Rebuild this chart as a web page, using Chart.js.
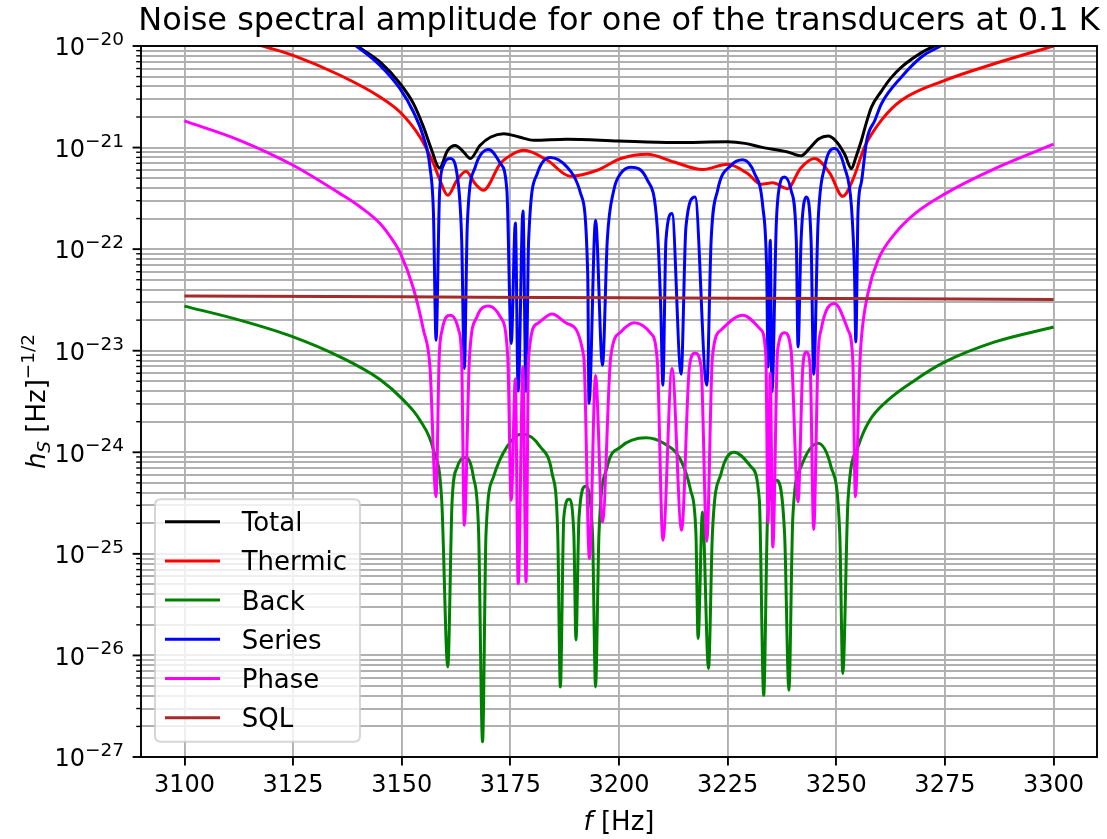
<!DOCTYPE html>
<html>
<head>
<meta charset="utf-8">
<script src="https://cdn.jsdelivr.net/npm/chart.js@4.4.0/dist/chart.umd.min.js"></script>
<style>
  html, body { margin: 0; padding: 0; background: #fff; }
  #wrap { width: 1107px; height: 839px; }
</style>
</head>
<body>
<div id="wrap"><canvas id="noiseChart" width="1107" height="839"></canvas></div>
<script>
// values (f in Hz, h in Hz^-1/2)
const totalF = [3100, 3125, 3135, 3140, 3145, 3149.6, 3152.7, 3155, 3156.9, 3158.7, 3160.5, 3162.3, 3164, 3165.8, 3168, 3170.5, 3173.5, 3177, 3180.4, 3188, 3200, 3212.7, 3225, 3229, 3232.7, 3238.8, 3241.9, 3244, 3246, 3248.1, 3250, 3252, 3253.5, 3254.5, 3255.8, 3257, 3258.1, 3260.4, 3262.5, 3265, 3270, 3274, 3285, 3300];
const totalV = [5e-20, 2.3e-20, 1.35e-20, 9.8e-21, 6.96e-21, 4.27e-21, 2.71e-21, 1.6e-21, 9.4e-22, 6.3e-22, 9.3e-22, 1.05e-21, 9.3e-22, 7.8e-22, 1.05e-21, 1.27e-21, 1.37e-21, 1.27e-21, 1.18e-21, 1.21e-21, 1.16e-21, 1.12e-21, 1.14e-21, 1.1e-21, 1.01e-21, 9.05e-22, 8.3e-22, 1.0e-21, 1.22e-21, 1.3e-21, 1.15e-21, 8.5e-22, 6.2e-22, 8.0e-22, 1.18e-21, 1.8e-21, 2.5e-21, 3.6e-21, 4.8e-21, 6.2e-21, 8.8e-21, 1.07e-20, 2e-20, 3e-20];

const thermicF = [3100, 3110, 3118, 3125, 3135.8, 3145, 3149.6, 3154.2, 3157.3, 3158.8, 3160.6, 3162.7, 3164.8, 3166.9, 3168.8, 3172.7, 3175.5, 3178.1, 3183.5, 3188.8, 3195, 3200.4, 3206.5, 3212.7, 3219.2, 3225, 3229.6, 3232.7, 3235.4, 3238.8, 3241.7, 3245, 3248.5, 3251.5, 3253.8, 3256.5, 3260.4, 3265, 3275, 3286.5, 3300];
const thermicV = [1.7e-20, 1.28e-20, 1.0e-20, 8.09e-21, 5.15e-21, 3.15e-21, 2.24e-21, 1.27e-21, 6.97e-22, 4.76e-22, 3.39e-22, 4.76e-22, 5.85e-22, 4.4e-22, 3.8e-22, 6.97e-22, 8.6e-22, 9.4e-22, 7.5e-22, 5.22e-22, 5.98e-22, 7.8e-22, 8.6e-22, 7.2e-22, 6.07e-22, 6.85e-22, 5.55e-22, 4.35e-22, 4.5e-22, 3.94e-22, 6.2e-22, 7.8e-22, 5.6e-22, 3.31e-22, 4.8e-22, 1.01e-21, 1.86e-21, 2.92e-21, 4.59e-21, 6.72e-21, 1.0e-20];

const backF = [3100, 3112.7, 3125, 3135.8, 3145, 3150.4, 3154.2, 3157.3, 3159.2, 3160.6, 3161.6, 3162.8, 3164.6, 3166.5, 3167.7, 3168.6, 3169.4, 3171.1, 3174.2, 3177.7, 3181.9, 3184.6, 3185.9, 3186.5, 3187.3, 3188.5, 3189.6, 3190.1, 3190.8, 3192.3, 3193.9, 3194.6, 3195.4, 3197.3, 3200.4, 3206.2, 3210.4, 3214.2, 3216.5, 3217.7, 3218.2, 3219.2, 3220.6, 3221.5, 3223.5, 3226.5, 3230.4, 3232.3, 3233.3, 3234.2, 3236.2, 3238.1, 3239.1, 3240, 3241.9, 3245.8, 3248.8, 3250.8, 3251.5, 3252.7, 3255, 3257.5, 3261.9, 3268.1, 3275, 3286.5, 3300];
const backV = [2.75e-23, 2.0e-23, 1.37e-23, 8.7e-24, 5.2e-24, 3.26e-24, 2.07e-24, 1.05e-24, 3.38e-25, 7.7e-27, 3.38e-25, 7.2e-25, 8.9e-25, 5.7e-25, 1.6e-25, 1.41e-27, 1.6e-25, 5.7e-25, 1.13e-24, 1.51e-24, 1.13e-24, 6.2e-25, 1.6e-25, 4.9e-27, 2.3e-25, 3.45e-25, 1.6e-25, 1.42e-26, 2.3e-25, 4.64e-25, 1.6e-25, 4.9e-27, 1.6e-25, 7.2e-25, 1.13e-24, 1.39e-24, 1.22e-24, 8.4e-25, 4.2e-25, 1.6e-25, 1.47e-26, 2.59e-25, 7.45e-27, 1.6e-25, 6.2e-25, 1.0e-24, 7.2e-25, 3.38e-25, 4.06e-27, 2.3e-25, 5.3e-25, 1.6e-25, 4.55e-27, 2.3e-25, 7.2e-25, 1.23e-24, 7.2e-25, 1.6e-25, 6.65e-27, 3.38e-25, 1.13e-24, 2.0e-24, 3.26e-24, 5.13e-24, 7.75e-24, 1.22e-23, 1.71e-23];

const seriesF = [3100, 3125, 3135, 3139.5, 3145, 3149.6, 3152.7, 3155, 3156.5, 3157.3, 3157.9, 3158.7, 3159.6, 3161.2, 3162.7, 3163.8, 3164.4, 3165.1, 3166.9, 3170, 3172.7, 3174.2, 3175.2, 3176.15, 3176.8, 3177.9, 3178.6, 3179.2, 3181.2, 3184.2, 3188.1, 3191.2, 3192.8, 3193.1, 3194.6, 3196.2, 3197.3, 3198.8, 3200.4, 3202.7, 3206.5, 3208.8, 3209.6, 3210.1, 3210.8, 3212.2, 3214.3, 3215.4, 3217.5, 3220.2, 3221.2, 3222.7, 3225.8, 3228.5, 3231.2, 3233.1, 3234.0, 3234.3, 3234.8, 3235.2, 3236.2, 3236.9, 3238.1, 3239.6, 3240.8, 3241.2, 3241.9, 3243.1, 3244.2, 3244.8, 3245.8, 3247.3, 3249.6, 3251.9, 3253.5, 3254.2, 3254.5, 3255, 3255.8, 3257, 3258.9, 3260.4, 3265, 3269.6, 3274, 3285, 3300];
const seriesV = [4.8e-20, 2.2e-20, 1.33e-20, 1.0e-20, 6.45e-21, 3.8e-21, 2.24e-21, 1.27e-21, 6.4e-22, 2.25e-22, 1.27e-23, 3.5e-22, 6.7e-22, 7.8e-22, 5.55e-22, 1.22e-22, 6.68e-24, 1.79e-22, 6.4e-22, 9.55e-22, 6.97e-22, 3.8e-22, 1.18e-23, 1.81e-22, 4e-24, 2.38e-22, 4e-24, 1.22e-22, 5.55e-22, 7.97e-22, 6.4e-22, 3.5e-22, 5.75e-23, 3.04e-24, 1.92e-22, 7.2e-24, 1.22e-22, 3.8e-22, 5.55e-22, 6.4e-22, 4.8e-22, 1.65e-22, 2.7e-23, 4.57e-24, 1.22e-22, 2.24e-22, 5.88e-24, 1.65e-22, 3.27e-22, 4.57e-24, 1.22e-22, 3.8e-22, 6.7e-22, 7.6e-22, 5.55e-22, 2.6e-22, 5.75e-23, 6.9e-24, 1.22e-22, 3.93e-24, 1.79e-22, 4.1e-22, 5.14e-22, 3.8e-22, 1.22e-22, 1.09e-23, 1.22e-22, 3.27e-22, 1.22e-22, 5.88e-24, 1.79e-22, 6.4e-22, 9.8e-22, 6.4e-22, 2.6e-22, 5.75e-23, 1.22e-23, 2.3e-22, 4.6e-22, 1.18e-21, 1.86e-21, 2.7e-21, 4.95e-21, 7.8e-21, 1.0e-20, 1.9e-20, 2.9e-20];

const phaseF = [3100, 3112.7, 3125, 3135.8, 3140.4, 3145, 3147.3, 3149.6, 3152.7, 3155, 3156.5, 3157.9, 3158.6, 3159.3, 3161.2, 3163.1, 3163.8, 3164.4, 3165.6, 3167.3, 3170, 3172.7, 3174.4, 3175.2, 3176.15, 3176.8, 3177.9, 3178.6, 3179.2, 3181.2, 3184.6, 3188.1, 3191.9, 3193.2, 3194.6, 3196.2, 3198.1, 3200.4, 3203.5, 3207.3, 3208.8, 3210.1, 3212.2, 3214.4, 3216.2, 3217.5, 3218.9, 3220.2, 3221.5, 3223.5, 3228.5, 3232.7, 3233.8, 3234.3, 3234.8, 3235.4, 3236.5, 3238.1, 3239.6, 3241.2, 3242.3, 3243.1, 3244.0, 3244.8, 3245.8, 3246.5, 3249.6, 3252.7, 3253.8, 3254.4, 3255.4, 3255.8, 3257.3, 3259.6, 3263.5, 3268.1, 3275, 3286.5, 3300];
const phaseV = [1.83e-21, 1.18e-21, 6.7e-22, 3.52e-22, 2.61e-22, 1.79e-22, 1.34e-22, 9.3e-23, 4.1e-23, 1.6e-23, 6.9e-24, 3.64e-25, 8e-24, 1.6e-23, 2.24e-23, 1.6e-23, 8e-24, 1.91e-25, 8.7e-24, 2.15e-23, 2.76e-23, 2.15e-23, 8.7e-24, 3.38e-25, 5.3e-24, 5.1e-26, 6.9e-24, 5.3e-26, 8.7e-24, 1.85e-23, 2.3e-23, 1.85e-23, 8.7e-24, 9e-26, 5.7e-24, 2.06e-25, 8.7e-24, 1.53e-23, 1.88e-23, 1.48e-23, 8.1e-24, 1.36e-25, 6.68e-24, 1.71e-25, 6.9e-24, 9.5e-24, 6.9e-24, 1.33e-25, 8.7e-24, 1.6e-23, 2.24e-23, 1.6e-23, 8.7e-24, 2.06e-25, 5.97e-24, 1.17e-25, 1.01e-23, 1.5e-23, 1.01e-23, 3.25e-25, 6.9e-24, 9.7e-24, 6.9e-24, 1.74e-25, 8.7e-24, 1.6e-23, 2.92e-23, 1.6e-23, 8.1e-24, 3.64e-25, 6.9e-24, 1.35e-23, 3.7e-23, 7.8e-23, 1.42e-22, 2.24e-22, 3.5e-22, 6.2e-22, 1.08e-21];

const sqlF = [3100, 3150, 3200, 3250, 3300];
const sqlV = [3.46e-23, 3.39e-23, 3.32e-23, 3.26e-23, 3.19e-23];

const xTickValues = [3100, 3125, 3150, 3175, 3200, 3225, 3250, 3275, 3300];
const yDecades = [-27, -26, -25, -24, -23, -22, -21, -20];

const FONT = "'DejaVu Sans', sans-serif";
const GRID = '#b0b0b0';

const yTickValues = [];
yDecades.forEach(e => {
  if (e === -20) { yTickValues.push(1e-20); return; }
  for (let m = 1; m <= 9; m++) yTickValues.push(m * Math.pow(10, e));
});
const isDecade = v => Math.abs(Math.log10(v) - Math.round(Math.log10(v))) < 1e-6;

function pts(fs, vs) { return fs.map((f, i) => ({ x: f, y: vs[i] })); }

function line(label, color, fs, vs, order) {
  return {
    label, data: pts(fs, vs), borderColor: color, backgroundColor: color,
    borderWidth: 3, pointRadius: 0, fill: false, order,
    cubicInterpolationMode: 'monotone'
  };
}

// draw mixed-style text pieces, left to right, starting at x
function drawPieces(ctx, pieces, x, y) {
  pieces.forEach(p => {
    ctx.font = p.font;
    ctx.fillText(p.text, x, y + (p.dy || 0));
    x += ctx.measureText(p.text).width;
  });
}
function piecesWidth(ctx, pieces) {
  let w = 0;
  pieces.forEach(p => { ctx.font = p.font; w += ctx.measureText(p.text).width; });
  return w;
}

const decor = {
  id: 'decor',
  afterDatasetsDraw(chart) {
    const { ctx, chartArea: a, scales: { x, y } } = chart;
    ctx.save();
    ctx.strokeStyle = '#000';
    ctx.lineWidth = 1.9;
    ctx.strokeRect(a.left, a.top, a.right - a.left, a.bottom - a.top);

    // y tick marks and 10^n labels
    ctx.fillStyle = '#000';
    ctx.textAlign = 'left';
    ctx.textBaseline = 'alphabetic';
    yTickValues.forEach(v => {
      const py = y.getPixelForValue(v);
      const major = isDecade(v);
      ctx.lineWidth = major ? 1.9 : 1.4;
      ctx.beginPath();
      ctx.moveTo(a.left, py);
      ctx.lineTo(a.left - (major ? 8.4 : 4.8), py);
      ctx.stroke();
      if (major) {
        const e = Math.round(Math.log10(v));
        const pieces = [
          { text: '10', font: '24px ' + FONT, dy: 9.3 },
          { text: '\u2212' + Math.abs(e), font: '18.5px ' + FONT, dy: -1 }
        ];
        const w = piecesWidth(ctx, pieces);
        drawPieces(ctx, pieces, a.left - 17 - w, py);
      }
    });

    // title
    ctx.font = '32px ' + FONT;
    ctx.textAlign = 'center';
    ctx.fillText('Noise spectral amplitude for one of the transducers at 0.1 K', (a.left + a.right) / 2, 30);

    // x axis label
    ctx.textAlign = 'left';
    const xl = [
      { text: 'f', font: 'italic 26px ' + FONT },
      { text: ' [Hz]', font: '26px ' + FONT }
    ];
    drawPieces(ctx, xl, (a.left + a.right) / 2 - piecesWidth(ctx, xl) / 2, 830);

    // y axis label (rotated)
    const yl = [
      { text: 'h', font: 'italic 26px ' + FONT },
      { text: 'S', font: 'italic 18.5px ' + FONT, dy: 4.5 },
      { text: ' [Hz]', font: '26px ' + FONT },
      { text: '\u22121/2', font: '18.5px ' + FONT, dy: -11 }
    ];
    ctx.save();
    ctx.translate(45, (a.top + a.bottom) / 2);
    ctx.rotate(-Math.PI / 2);
    drawPieces(ctx, yl, -piecesWidth(ctx, yl) / 2, 0);
    ctx.restore();
    ctx.restore();
  },
  afterDraw(chart) {
    const { ctx } = chart;
    const L = 155, T = 499.3, R = 360, B = 741.7, r = 6;
    ctx.save();
    ctx.beginPath();
    ctx.moveTo(L + r, T);
    ctx.lineTo(R - r, T); ctx.quadraticCurveTo(R, T, R, T + r);
    ctx.lineTo(R, B - r); ctx.quadraticCurveTo(R, B, R - r, B);
    ctx.lineTo(L + r, B); ctx.quadraticCurveTo(L, B, L, B - r);
    ctx.lineTo(L, T + r); ctx.quadraticCurveTo(L, T, L + r, T);
    ctx.closePath();
    ctx.fillStyle = 'rgba(255,255,255,0.8)';
    ctx.fill();
    ctx.strokeStyle = 'rgba(204,204,204,0.8)';
    ctx.lineWidth = 2;
    ctx.stroke();

    ctx.font = '26px ' + FONT;
    ctx.textAlign = 'left';
    ctx.textBaseline = 'alphabetic';
    chart.data.datasets.forEach((ds, i) => {
      const cy = 521.7 + i * 39.2;
      ctx.strokeStyle = ds.borderColor;
      ctx.lineWidth = 3;
      ctx.beginPath();
      ctx.moveTo(165, cy);
      ctx.lineTo(220, cy);
      ctx.stroke();
      ctx.fillStyle = '#000';
      ctx.fillText(ds.label, 241.7, cy + 9.5);
    });
    ctx.restore();
  }
};

new Chart(document.getElementById('noiseChart'), {
  type: 'line',
  data: {
    datasets: [
      line('Total', '#000000', totalF, totalV, 5),
      line('Thermic', '#ff0000', thermicF, thermicV, 4),
      line('Back', '#008000', backF, backV, 3),
      line('Series', '#0000ff', seriesF, seriesV, 2),
      line('Phase', '#ff00ff', phaseF, phaseV, 1),
      line('SQL', '#a52a2a', sqlF, sqlV, 0)
    ]
  },
  options: {
    responsive: false,
    animation: false,
    devicePixelRatio: 1,
    layout: { padding: { top: 46, right: 10, bottom: 0, left: 0 } },
    plugins: { legend: { display: false }, title: { display: false }, tooltip: { enabled: false } },
    scales: {
      x: {
        type: 'linear',
        min: 3090,
        max: 3310,
        afterBuildTicks: s => { s.ticks = xTickValues.map(v => ({ value: v })); },
        afterFit: s => { s.height = 82; },
        ticks: {
          color: '#000',
          font: { family: FONT, size: 24 },
          padding: 6,
          maxRotation: 0,
          autoSkip: false,
          callback: v => String(v)
        },
        grid: { color: GRID, lineWidth: 1.9, drawTicks: true, tickLength: 8.4, tickColor: '#000', tickWidth: 1.9 },
        border: { display: false }
      },
      y: {
        type: 'logarithmic',
        min: 1e-27,
        max: 1e-20,
        afterBuildTicks: s => { s.ticks = yTickValues.map(v => ({ value: v })); },
        afterFit: s => { s.width = 141; },
        ticks: { display: false },
        grid: { color: GRID, lineWidth: 1.9, drawTicks: false },
        border: { display: false }
      }
    }
  },
  plugins: [decor]
});
</script>
</body>
</html>
